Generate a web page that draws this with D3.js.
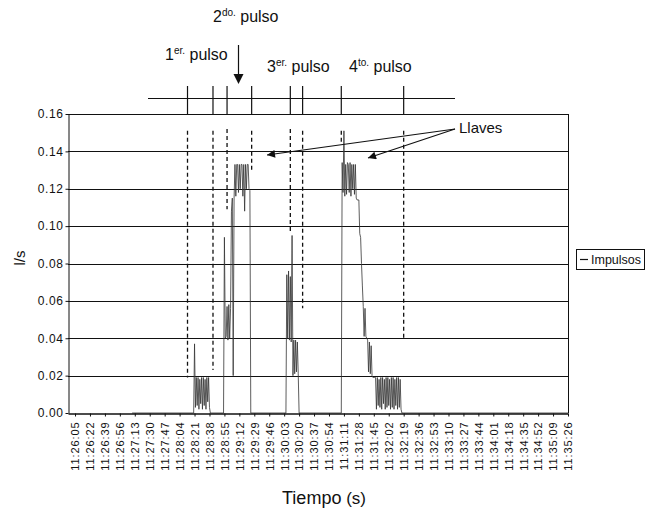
<!DOCTYPE html>
<html><head><meta charset="utf-8">
<script src="https://cdn.jsdelivr.net/npm/d3@7/dist/d3.min.js"></script>
<style>body{margin:0;background:#fff}svg{display:block;font-family:"Liberation Sans",Arial,Helvetica,sans-serif}</style>
</head><body><svg id="c" width="646" height="512"></svg>
<script>
// ---- data ----
const tickLabels = ["11:26:05","11:26:22","11:26:39","11:26:56","11:27:13","11:27:30","11:27:47","11:28:04","11:28:21","11:28:38","11:28:55","11:29:12","11:29:29","11:29:46","11:30:03","11:30:20","11:30:37","11:30:54","11:31:11","11:31:28","11:31:45","11:32:02","11:32:19","11:32:36","11:32:53","11:33:10","11:33:27","11:33:44","11:34:01","11:34:18","11:34:35","11:34:52","11:35:09","11:35:26"];
const yTicks = [0.00,0.02,0.04,0.06,0.08,0.10,0.12,0.14,0.16];
// seconds after 11:26:05
const impulsosTime = [65,135,
 136,137,138,139,140,141,142,143,144,145,146,147,148,149,150,151,152,153,154,
 169,170,171,172,173,174,175,176,177,178,179,180,181,182,183,184,185,186,187,188,189,190,191,192,193,194,195,196,197,198,199,200,
 240,241,242,243,244,245,246,247,248,249,250,251,252,253,254,255,
 303,304,305,306,307,308,309,310,311,312,313,314,315,316,317,318,319,320,321,322,323,324,325,326,327,328,329,330,331,332,333,334,335,336,337,338,339,340,341,342,
 343,344,345,346,347,348,349,350,351,352,353,354,355,356,357,358,359,360,361,362,363,364,365,366,367,368,369,370,371,372,
 561];
const impulsosFlow = [0,0,
 0.037,0.003,0.019,0.004,0.019,0.002,0.018,0.005,0.019,0.002,0.019,0.004,0.018,0.002,0.019,0.006,0.019,0.003,0.000,
 0.000,0.094,0.040,0.041,0.057,0.039,0.058,0.040,0.056,0.108,0.115,0.020,0.115,0.133,0.116,0.133,0.133,0.118,0.133,0.120,0.133,0.133,0.116,0.133,0.108,0.133,0.120,0.133,0.133,0.120,0.119,0.000,
 0.000,0.074,0.040,0.076,0.039,0.073,0.038,0.095,0.020,0.039,0.021,0.039,0.022,0.038,0.021,0.000,
 0.000,0.134,0.118,0.151,0.116,0.133,0.117,0.134,0.133,0.118,0.134,0.116,0.133,0.120,0.133,0.117,0.133,0.115,0.114,0.114,0.114,0.096,0.094,0.080,0.068,0.057,0.041,0.056,0.041,0.040,0.039,0.022,0.038,0.021,0.036,0.020,0.019,0.019,0.019,0.019,
 0.002,0.019,0.004,0.018,0.003,0.019,0.002,0.019,0.005,0.018,0.002,0.019,0.003,0.019,0.004,0.018,0.002,0.019,0.003,0.019,0.002,0.018,0.004,0.019,0.002,0.019,0.003,0.018,0.002,0.000,
 0];
const valveTime = [128,157,173,201,245,259,303,374];
const valveTop = [0.151,0.151,0.152,0.151,0.152,0.151,0.151,0.151];
const valveBottom = [0.019,0.023,0.109,0.129,0.097,0.056,0.144,0.039];
const pulseNum = ["1","2","3","4"];
const pulseSup = ["er.","do.","er.","to."];
const seriesName = "Impulsos";

// ---- chart ----
const svg = d3.select("#c");
const x = d3.scaleLinear().domain([-8, 561]).range([68, 568]);
const y = d3.scaleLinear().domain([0, 0.16]).range([413, 114]);
const toSec = s => { const p = s.split(":").map(Number); return (p[0]*3600+p[1]*60+p[2]) - (11*3600+26*60+5); };
const tickSecs = tickLabels.map(toSec);

// gridlines
svg.append("g").selectAll("line").data(yTicks.filter(d => d > 0)).join("line")
  .attr("x1", 68).attr("x2", 568).attr("y1", d => Math.round(y(d)) + 0.5).attr("y2", d => Math.round(y(d)) + 0.5)
  .attr("stroke", "#111").attr("stroke-width", 1);
// right border
svg.append("line").attr("x1", 568.5).attr("x2", 568.5).attr("y1", y(0.16)).attr("y2", y(0))
  .attr("stroke", "#111");

// valves (dashed)
svg.append("g").selectAll("line").data(valveTime).join("line")
  .attr("x1", d => x(d)).attr("x2", d => x(d))
  .attr("y1", (d, i) => y(valveTop[i])).attr("y2", (d, i) => y(valveBottom[i]))
  .attr("stroke", "#111").attr("stroke-width", 1.3).attr("stroke-dasharray", "4,3");

// series
const line = d3.line().x((d, i) => x(impulsosTime[i])).y(d => y(d));
svg.append("path").datum(impulsosFlow).attr("d", line)
  .attr("fill", "none").attr("stroke", "#333").attr("stroke-width", 0.8);

// axes
const yAxis = svg.append("g").attr("transform", "translate(68.5,0)")
  .call(d3.axisLeft(y).tickValues(yTicks).tickFormat(d3.format(".2f")).tickSize(3).tickSizeOuter(0).tickPadding(2));
yAxis.selectAll("text").attr("font-size", 12).attr("fill", "#111").attr("letter-spacing", 0.6).attr("font-family", "Liberation Sans, Arial, sans-serif");
yAxis.selectAll("path,line").attr("stroke", "#111");

const xAxis = svg.append("g").attr("transform", "translate(0,413.5)")
  .call(d3.axisBottom(x).tickValues(tickSecs).tickFormat((d, i) => tickLabels[i]).tickSize(3).tickSizeOuter(0));
xAxis.selectAll("path,line").attr("stroke", "#111");
xAxis.select(".domain").attr("stroke-width", 1.5);
xAxis.selectAll("text").attr("transform", "rotate(-90)").attr("text-anchor", "end")
  .attr("x", -8).attr("y", 0).attr("dy", "0.35em")
  .attr("font-size", 11).attr("letter-spacing", 0.9).attr("fill", "#111").attr("font-family", "Liberation Sans, Arial, sans-serif");

// axis titles
svg.append("text").attr("transform", "translate(25,258) rotate(-90)").attr("text-anchor", "middle")
  .attr("font-size", 15).attr("fill", "#111").text("l/s");
svg.append("text").attr("x", 324).attr("y", 504).attr("text-anchor", "middle").attr("font-size", 18).attr("fill", "#111")
  .text("Tiempo").append("tspan").attr("font-size", 17).text(" (s)");

// legend
svg.append("rect").attr("x", 576.5).attr("y", 249.5).attr("width", 68).attr("height", 20)
  .attr("fill", "#fff").attr("stroke", "#111");
svg.append("line").attr("x1", 580).attr("x2", 588).attr("y1", 259.5).attr("y2", 259.5).attr("stroke", "#111").attr("stroke-width", 1.2);
svg.append("text").attr("x", 591).attr("y", 264).attr("font-size", 12.5).attr("fill", "#111").text(seriesName);

// timeline of pulses
svg.append("line").attr("x1", 148).attr("x2", 455).attr("y1", 98.5).attr("y2", 98.5).attr("stroke", "#111");
svg.append("g").selectAll("line").data(valveTime).join("line")
  .attr("x1", d => x(d)).attr("x2", d => x(d)).attr("y1", 86).attr("y2", 114)
  .attr("stroke", "#111").attr("stroke-width", 1.2);

// pulse labels
const labelPos = [[165, 60], [213, 22], [267, 72], [349, 72]];
pulseNum.forEach((n, i) => {
  const t = svg.append("text").attr("x", labelPos[i][0]).attr("y", labelPos[i][1]).attr("font-size", 16).attr("fill", "#111");
  t.append("tspan").text(n);
  t.append("tspan").attr("font-size", 10).attr("dy", -6).text(pulseSup[i]);
  t.append("tspan").attr("dy", 6).text(" pulso");
});

// arrow for 2do pulso
svg.append("line").attr("x1", 238.5).attr("x2", 238.5).attr("y1", 45).attr("y2", 76).attr("stroke", "#111").attr("stroke-width", 1.2);
svg.append("path").attr("d", "M233.5,74 L243.5,74 L238.5,84 Z").attr("fill", "#111");

// Llaves annotation
const defs = svg.append("defs");
defs.append("marker").attr("id", "ah").attr("viewBox", "0 0 10 10").attr("refX", 10).attr("refY", 5)
  .attr("markerWidth", 12).attr("markerHeight", 8).attr("markerUnits", "userSpaceOnUse").attr("orient", "auto")
  .append("path").attr("d", "M0,0 L10,5 L0,10 Z").attr("fill", "#111");
svg.append("line").attr("x1", 455).attr("y1", 129).attr("x2", 267).attr("y2", 155)
  .attr("stroke", "#111").attr("stroke-width", 1.2).attr("marker-end", "url(#ah)");
svg.append("line").attr("x1", 455).attr("y1", 129).attr("x2", 368).attr("y2", 158)
  .attr("stroke", "#111").attr("stroke-width", 1.2).attr("marker-end", "url(#ah)");
svg.append("text").attr("x", 459).attr("y", 133).attr("font-size", 15).attr("fill", "#111").text("Llaves");
</script></body></html>
